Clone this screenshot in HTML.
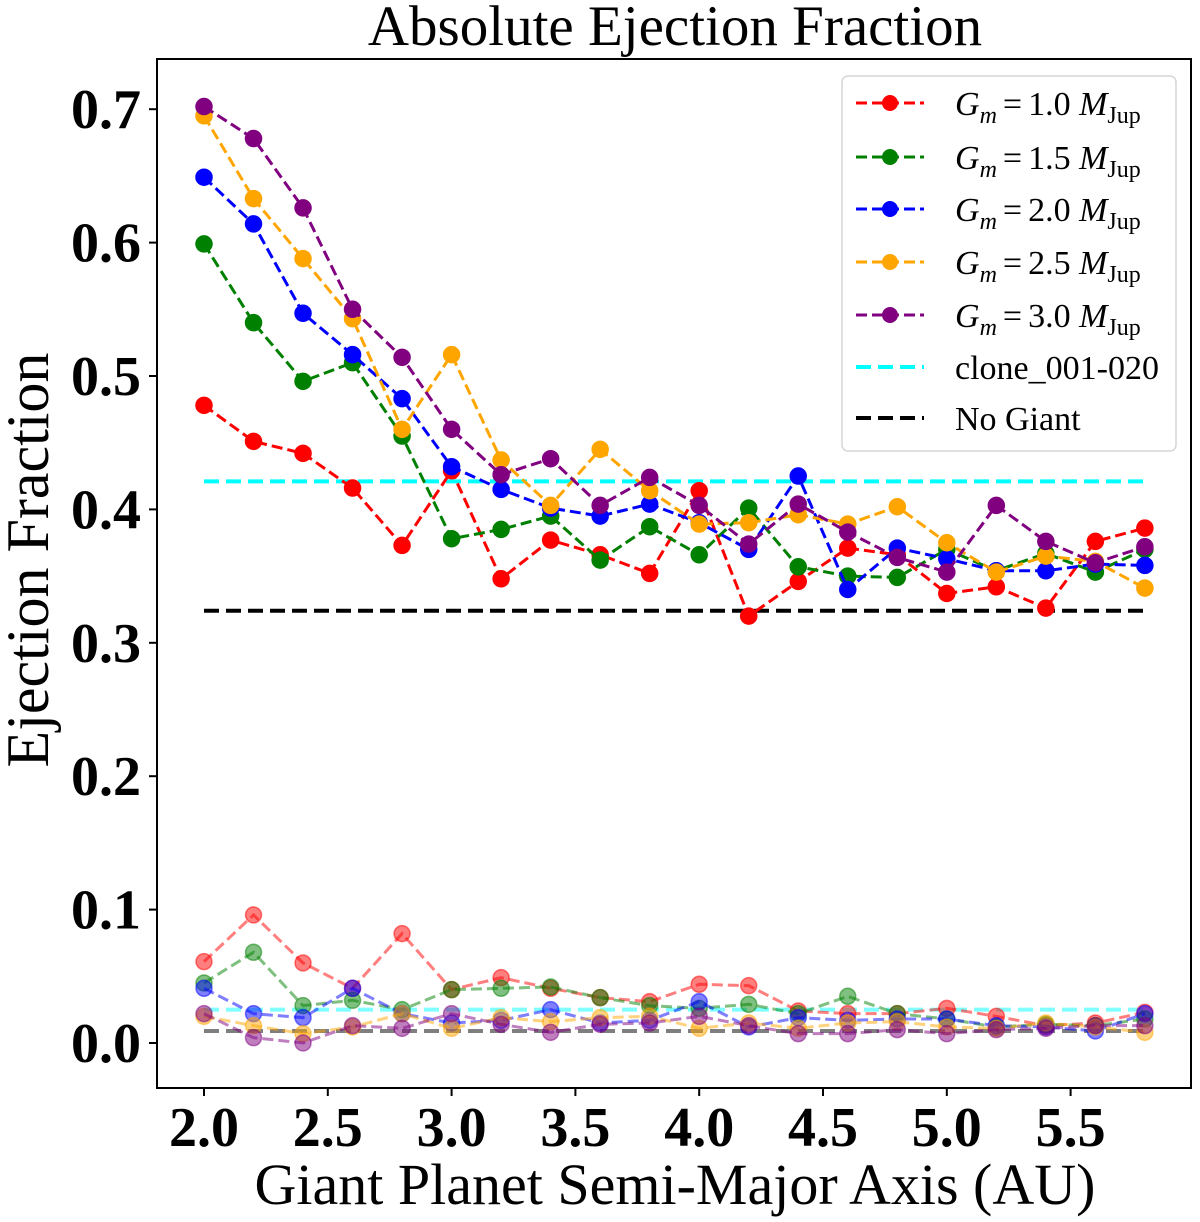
<!DOCTYPE html>
<html><head><meta charset="utf-8"><style>
html,body{margin:0;padding:0;background:#fff;}
svg{display:block;font-family:"Liberation Serif",serif;}
</style></head><body>
<svg id="chart" width="1200" height="1222" viewBox="0 0 1200 1222" xmlns="http://www.w3.org/2000/svg">
<text x="675" y="45" font-size="57" text-anchor="middle">Absolute Ejection Fraction</text>
<text transform="translate(48,560) rotate(-90)" font-size="60" text-anchor="middle">Ejection Fraction</text>
<text x="675" y="1204" font-size="58" text-anchor="middle">Giant Planet Semi-Major Axis (AU)</text>
<g id="marks"></g>
<g id="axes"></g>
<g id="legend"></g>
</svg>
<script>
const xs = [2.0,2.2,2.4,2.6,2.8,3.0,3.2,3.4,3.6,3.8,4.0,4.2,4.4,4.6,4.8,5.0,5.2,5.4,5.6,5.8];
const xTicks = [2.0,2.5,3.0,3.5,4.0,4.5,5.0,5.5];
const yTicks = [0.0,0.1,0.2,0.3,0.4,0.5,0.6,0.7];
const seriesNames = ["1.0","1.5","2.0","2.5","3.0"];
const seriesColors = ["red","green","blue","orange","purple"];
const absRed    = [0.478,0.451,0.442,0.416,0.373,0.429,0.348,0.377,0.366,0.352,0.414,0.320,0.346,0.371,0.366,0.337,0.342,0.326,0.376,0.386];
const absGreen  = [0.599,0.540,0.496,0.510,0.455,0.378,0.385,0.395,0.362,0.387,0.366,0.401,0.357,0.350,0.349,0.370,0.354,0.367,0.353,0.370];
const absBlue   = [0.649,0.614,0.547,0.516,0.483,0.432,0.415,0.401,0.395,0.404,0.390,0.370,0.425,0.340,0.371,0.363,0.354,0.354,0.359,0.358];
const absOrange = [0.695,0.633,0.588,0.543,0.460,0.516,0.437,0.403,0.445,0.414,0.389,0.390,0.396,0.389,0.402,0.375,0.353,0.365,0.361,0.341];
const absPurple = [0.702,0.678,0.626,0.550,0.514,0.460,0.426,0.438,0.403,0.424,0.403,0.374,0.404,0.383,0.364,0.353,0.403,0.376,0.360,0.372];
const lowRed    = [0.061,0.096,0.060,0.041,0.082,0.040,0.049,0.041,0.034,0.031,0.044,0.043,0.024,0.022,0.022,0.026,0.020,0.013,0.015,0.023];
const lowGreen  = [0.045,0.068,0.028,0.032,0.025,0.040,0.041,0.042,0.034,0.028,0.026,0.029,0.022,0.035,0.022,0.018,0.012,0.014,0.013,0.018];
const lowBlue   = [0.041,0.022,0.019,0.041,0.022,0.015,0.017,0.025,0.015,0.017,0.031,0.012,0.019,0.017,0.018,0.018,0.013,0.012,0.009,0.022];
const lowOrange = [0.020,0.013,0.007,0.012,0.022,0.011,0.019,0.016,0.019,0.020,0.011,0.015,0.011,0.015,0.016,0.012,0.011,0.015,0.012,0.008];
const lowPurple = [0.022,0.004,0.000,0.013,0.011,0.022,0.014,0.008,0.014,0.015,0.020,0.013,0.007,0.007,0.010,0.007,0.010,0.011,0.013,0.013];
const cloneAbs = 0.421, noGiantAbs = 0.324;
const cloneLow = 0.025, noGiantLow = 0.009;

const NS="http://www.w3.org/2000/svg";
const L=157,R=1191,T=59,B=1088;
function xScale(v){return 204+(v-2.0)*247.6;}
function yScale(v){return 1043-v*1334;}
function mk(tag,attrs,parent){const e=document.createElementNS(NS,tag);for(const k in attrs)e.setAttribute(k,attrs[k]);parent.appendChild(e);return e;}
const marks=document.getElementById('marks'),axes=document.getElementById('axes'),leg=document.getElementById('legend');

function hline(v,color,op,name){
  const l=mk('line',{x1:xScale(2.0),x2:xScale(5.8),y1:yScale(v),y2:yScale(v),stroke:color,'stroke-width':4,'stroke-dasharray':'15 7','stroke-opacity':op},marks);
  
  
}
function series(vals,color,op,name){
  const g=mk('g',{},marks);
  
  
  const pts=vals.map((v,i)=>xScale(xs[i])+','+yScale(v)).join(' ');
  mk('polyline',{points:pts,fill:'none',stroke:color,'stroke-width':3,'stroke-dasharray':'11 5','stroke-opacity':op},g);
  vals.forEach((v,i)=>{
    const c=mk('circle',{cx:xScale(xs[i]),cy:yScale(v),r:8,fill:color,'fill-opacity':op,stroke:color,'stroke-opacity':op,'stroke-width':1.5},g);
    
    
  });
}
const lows=[lowRed,lowGreen,lowBlue,lowOrange,lowPurple];
const abss=[absRed,absGreen,absBlue,absOrange,absPurple];
hline(cloneLow,'cyan',0.5,'clone-low-line');
hline(noGiantLow,'black',0.5,'no-giant-low-line');
lows.forEach((s,i)=>series(s,seriesColors[i],0.5,'low-series-'+seriesNames[i]));
hline(cloneAbs,'cyan',1,'clone-line');
hline(noGiantAbs,'black',1,'no-giant-line');
abss.forEach((s,i)=>series(s,seriesColors[i],1,'abs-series-'+seriesNames[i]));

const frame=mk('rect',{x:L,y:T,width:R-L,height:B-T,fill:'none',stroke:'#000','stroke-width':2},axes);


xTicks.forEach(t=>{
  const x=xScale(t);
  mk('line',{x1:x,x2:x,y1:B,y2:B+8,stroke:'#000','stroke-width':2},axes);
  const tx=mk('text',{x:x,y:1146,'font-size':56,'font-weight':'bold','text-anchor':'middle'},axes);
  tx.textContent=t.toFixed(1);
  
  
});
yTicks.forEach(t=>{
  const y=yScale(t);
  mk('line',{x1:L-8,x2:L,y1:y,y2:y,stroke:'#000','stroke-width':2},axes);
  const tx=mk('text',{x:141,y:y+19,'font-size':56,'font-weight':'bold','text-anchor':'end'},axes);
  tx.textContent=t.toFixed(1);
  
  
});

mk('rect',{x:842,y:76,width:334,height:375,rx:6,fill:'#fff','fill-opacity':0.85,stroke:'#d6d6d6','stroke-width':1.5},leg);
const legY=[103,157,209,262,315,367,418];
seriesNames.forEach((n,i)=>{
  const y=legY[i];
  const g=mk('g',{},leg);
  
  
  mk('line',{x1:856,x2:924,y1:y,y2:y,stroke:seriesColors[i],'stroke-width':3,'stroke-dasharray':'11 5'},g);
  mk('circle',{cx:890,cy:y,r:8,fill:seriesColors[i]},g);
  const t=mk('text',{x:955,y:y+12,'font-size':34},g);
  t.innerHTML='<tspan font-style="italic">G</tspan><tspan font-style="italic" font-size="24" dy="8">m</tspan><tspan dy="-8" dx="6">=</tspan><tspan dx="6">'+n+' </tspan><tspan font-style="italic">M</tspan><tspan font-size="24" dy="8">Jup</tspan>';
});
[['clone_001-020','cyan'],['No Giant','black']].forEach((e,j)=>{
  const y=legY[5+j];
  const g=mk('g',{},leg);
  
  
  mk('line',{x1:856,x2:924,y1:y,y2:y,stroke:e[1],'stroke-width':4,'stroke-dasharray':'15 7'},g);
  const t=mk('text',{x:955,y:y+12,'font-size':34},g);
  t.textContent=e[0];
});
</script>
</body></html>
